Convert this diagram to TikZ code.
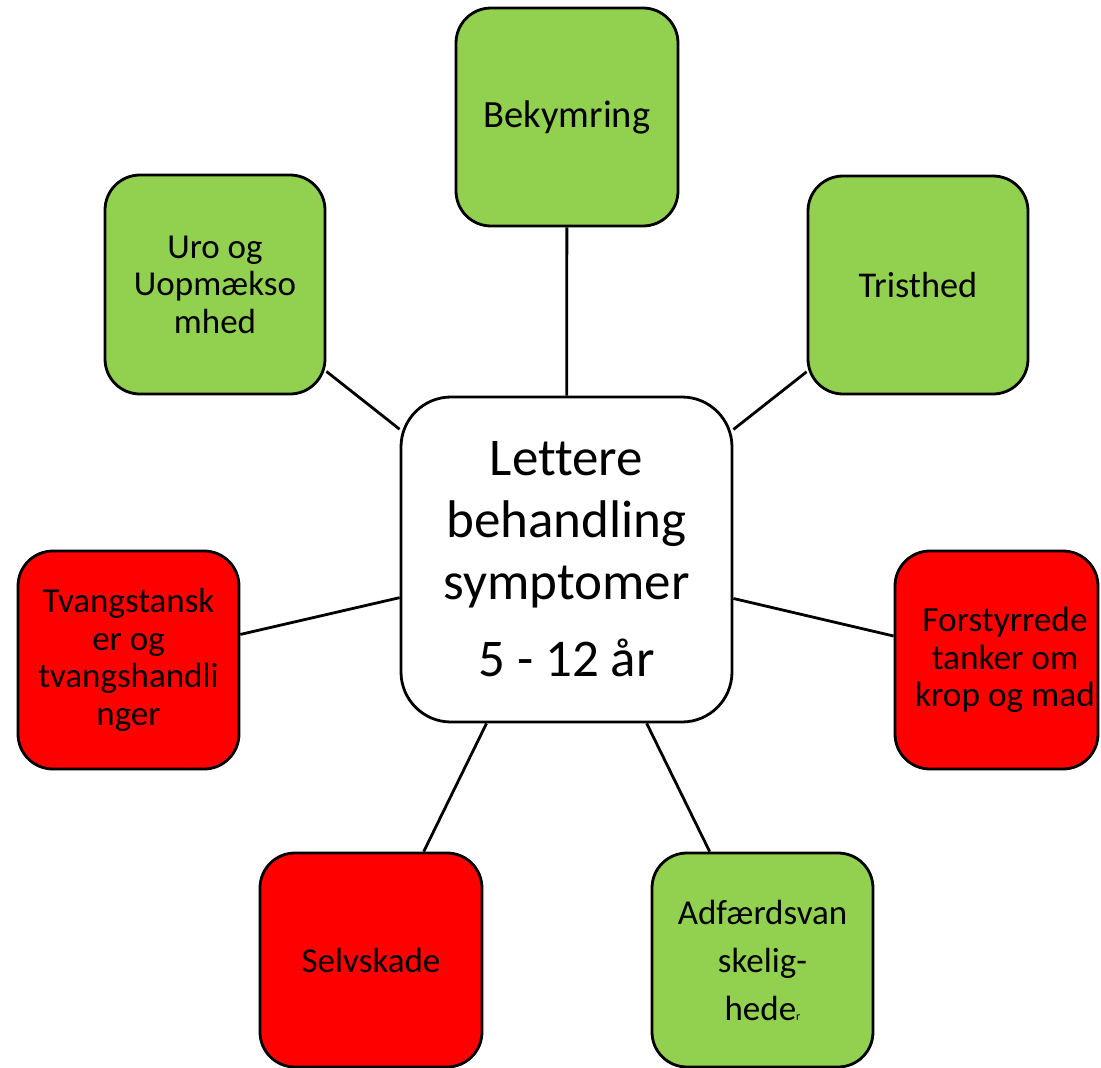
\documentclass[tikz,border=0pt]{standalone}
\usepackage{fontspec}
\setmainfont{Carlito}[Ligatures=NoCommon]
\definecolor{lgreen}{HTML}{92D050}
\definecolor{lred}{HTML}{FF0000}
\begin{document}
\begin{tikzpicture}[x=1pt,y=-1pt,
  box/.style={draw=black,line width=2.8pt,rounded corners=35pt,inner sep=0pt,align=center,text=black,font=\fontsize{35}{37.5}\selectfont},
  gbox/.style={box,fill=lgreen},
  rbox/.style={box,fill=lred},
  lbl/.style={inner sep=0pt,align=center,text=black},
  hub/.style={draw=black,line width=2.8pt,rounded corners=50pt,inner sep=0pt,fill=white,align=center,font=\fontsize{53}{62}\selectfont},
  link/.style={draw=black,line width=2.8pt}]
\useasboundingbox (0,0) rectangle (1101,1068);
\node[hub,minimum width=331pt,minimum height=325pt] (c) at (566.5,559.5) {Lettere\\behandling\\symptomer\\[15pt]5 - 12 år};
\node[gbox,minimum width=222pt,minimum height=218pt,font=\fontsize{38.5}{40}\selectfont] (bek) at (567,117) {Bekymring};
\node[gbox,minimum width=220pt,minimum height=218pt,font=\fontsize{36.3}{40}\selectfont] (tri) at (918,285) {Tristhed};
\node[gbox,minimum width=220pt,minimum height=219pt] (uro) at (215,284.5) {Uro og\\Uopmækso\\mhed};
\node[rbox,minimum width=221pt,minimum height=218pt] (tva) at (128.5,660) {Tvangstansk\\er og\\tvangshandli\\nger};
\node[rbox,minimum width=203pt,minimum height=218pt] (for) at (996.5,660) {};
\node[lbl,font=\fontsize{35.3}{37.5}\selectfont] (fortxt) at (1005,660) {Forstyrrede\\tanker om\\krop og mad};
\node[rbox,minimum width=222pt,minimum height=214pt] (sel) at (371,960) {Selvskade};
\node[gbox,minimum width=221pt,minimum height=214pt,font=\fontsize{35}{48}\selectfont] (adf) at (762.5,960) {Adfærdsvan\\skelig-\\hede{\fontsize{12}{12}\selectfont r}};
\draw[link] (c) -- (bek);
\draw[link] (c) -- (tri);
\draw[link] (c) -- (uro);
\draw[link] (c) -- (tva);
\draw[link] (c) -- (for);
\draw[link] (c) -- (sel);
\draw[link] (c) -- (adf);
\end{tikzpicture}
\end{document}
